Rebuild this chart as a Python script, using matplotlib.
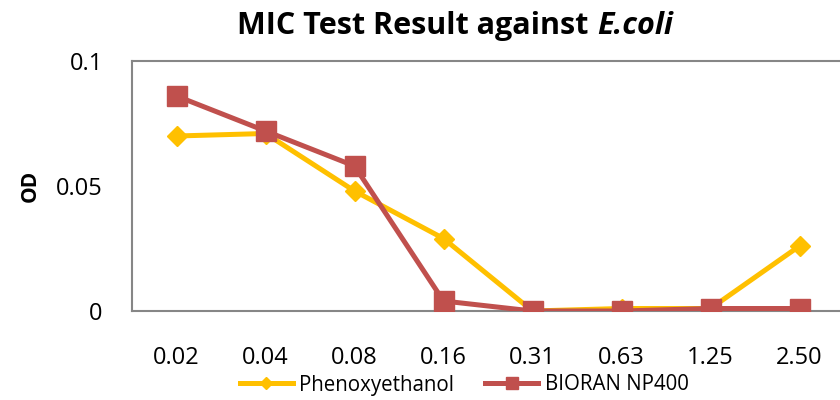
import matplotlib
matplotlib.use("Agg")
import matplotlib.pyplot as plt

categories = ["0.02", "0.04", "0.08", "0.16", "0.31", "0.63", "1.25", "2.50"]
phenoxy = [0.070, 0.071, 0.048, 0.029, 0.000, 0.001, 0.001, 0.026]
bioran = [0.086, 0.072, 0.058, 0.004, 0.000, 0.000, 0.001, 0.001]
yticks = [0, 0.05, 0.1]
ytick_labels = ["0", "0.05", "0.1"]

plt.rcParams['font.family'] = ['Open Sans', 'DejaVu Sans']

W, H = 840, 400
fig = plt.figure(figsize=(W / 100, H / 100), dpi=100)
ax = fig.add_axes([132 / W, 1 - 311 / H, (844 - 132) / W, (311 - 61) / H])

x = range(len(categories))
ax.plot(x, phenoxy, color="#FFC000", lw=3.6, marker="D", markersize=10,
        label="Phenoxyethanol", zorder=3)
ax.plot(x, bioran, color="#C0504D", lw=3.6, marker="s", markersize=15,
        label="BIORAN NP400", zorder=4)

ax.set_xlim(-0.5, len(categories) - 0.5)
ax.set_ylim(0, 0.1)
ax.set_xticks(list(x))
ax.set_xticklabels(categories, fontsize=17)
ax.set_yticks(yticks)
ax.set_yticklabels(ytick_labels, fontsize=17)
ax.tick_params(axis="both", length=0)
ax.tick_params(axis="x", pad=25)
ax.tick_params(axis="y", pad=21)
for s in ["left", "top", "bottom"]:
    ax.spines[s].set_color("#868686")
    ax.spines[s].set_linewidth(1.5)
ax.spines["right"].set_visible(False)

fig.text(30 / W, 1 - 186 / H, "OD", rotation=90, fontsize=15, fontweight="bold",
         ha="center", va="center")

fig.text(588 / W, 1 - 26 / H, "MIC Test Result against", fontsize=22,
         fontweight="bold", ha="right", va="center")
fig.text(597 / W, 1 - 26 / H, "E.coli", fontsize=22, fontweight="bold",
         style="italic", ha="left", va="center")

leg = ax.legend(loc="center", bbox_to_anchor=(464 / W, 1 - 385 / H),
                bbox_transform=fig.transFigure, ncol=2, frameon=False,
                fontsize=14.8, handlelength=2.6, columnspacing=1.5,
                handletextpad=0.3, markerscale=0.6)

fig.savefig("out.png", dpi=100)
